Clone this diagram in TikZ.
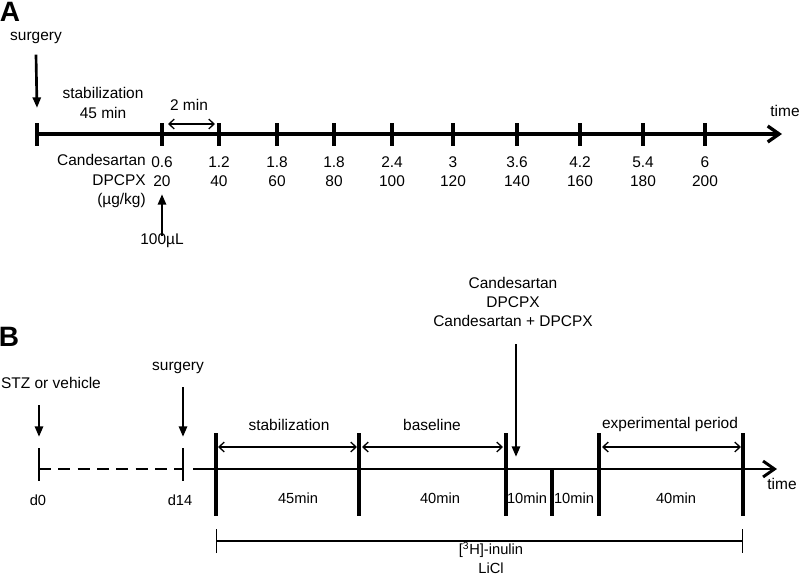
\documentclass[tikz,border=0pt]{standalone}
\usepackage{fontspec}
\setmainfont{Liberation Sans}
\usetikzlibrary{positioning,arrows.meta,calc}

\begin{document}
\begin{tikzpicture}[x=0.75pt,y=-0.75pt,font=\fontsize{11.6}{14.4}\selectfont,
  >={Triangle[length=2.8mm,width=2.1mm]},
  panel/.style={font=\fontsize{21}{24}\selectfont\bfseries,inner sep=0pt},
  lbl/.style={inner sep=0pt,align=center},
  axis/.style={line width=2.5pt,-{Straight Barb[length=3mm,width=4.2mm]}},
  tickmark/.style={line width=2.5pt},
  inj/.style={line width=2pt,->},
  span/.style={line width=1pt,{Straight Barb[length=1.4mm,width=2.6mm]}-{Straight Barb[length=1.4mm,width=2.6mm]}},
  infuse/.style={line width=1pt,{Bar[width=18pt]}-{Bar[width=18pt]}}]
  \useasboundingbox (0,0) rectangle (800,576);

  % A: dose protocol
  \node[panel] (A) at (10,12) {A};
  \node[lbl] (surgA) at (36,38) {surgery};
  \coordinate (a0) at (37,134);
  \coordinate (a1) at (162,134);
  \coordinate (aEnd) at (782,134);
  \coordinate (surgAtip) at (37,108);
  \draw[inj] ([yshift=-8pt]surgA.south) -- (surgAtip);
  \draw[axis] (a0) -- (aEnd);
  \node[lbl] (timeA) at (785,111) {time};
  \draw[tickmark] (37,123) -- (37,146);
  \draw[tickmark] (162,123) -- (162,146);
  \node[lbl] (stabA) at (103,103) {stabilization\\45 min};
  \node[lbl] (gapA) at (189,105) {2 min};
  \coordinate (gapL) at (168,124);
  \coordinate (gapR) at (215,124);
  \draw[span] (gapL) -- (gapR);
  \node[lbl,anchor=east,align=right] (drugA) at (146,181) {Candesartan\\DPCPX\\(µg/kg)};
  \node[lbl] (dose20) at (162,171.5) {0.6\\20};
  \foreach \x/\c/\d in {219/1.2/40, 277/1.8/60, 334/1.8/80, 392/2.4/100, 453/3/120,
                        517/3.6/140, 580/4.2/160, 643/5.4/180, 705/6/200}{
    \draw[tickmark] (\x,123) -- (\x,146);
    \node[lbl] (dose\d) at (\x,171.5) {\c\\\d};
  }
  \node[lbl] (volA) at (162,241) {100µL};
  \coordinate (volAtip) at (162,194);
  \draw[inj] ([yshift=-2pt]volA.north) -- (volAtip);

  % B: experimental timeline
  \node[panel] (B) at (9,337) {B};
  \node[lbl] (stz) at (51,383) {STZ or vehicle};
  \node[lbl] (surgB) at (178,368) {surgery};
  \coordinate (d0) at (39,469);
  \coordinate (d14) at (183,469);
  \coordinate (b0) at (193,469);
  \coordinate (bEnd) at (777,469);
  \draw[inj] (39,405) -- (39,437);
  \draw[inj] (183,387) -- (183,437);
  \draw[tickmark,line width=2.2pt] (39,448) -- (39,481);
  \draw[tickmark,line width=2.2pt] (183,448) -- (183,481);
  \draw[line width=2pt,dash pattern=on 9pt off 5.5pt] (d0) -- (d14);
  \node[lbl] (d0lbl) at (38,500) {\fontsize{11}{13}\selectfont d0};
  \node[lbl] (d14lbl) at (180,500) {\fontsize{11}{13}\selectfont d14};
  \draw[axis,line width=2.2pt] (b0) -- (bEnd);
  \node[lbl] (timeB) at (782,484) {time};
  \foreach \x in {216,359,506,599,743}
    \draw[tickmark] (\x,433) -- (\x,516);
  \draw[tickmark] (552,469) -- (552,516);
  \draw[span] (218,447) -- (357,447);
  \draw[span] (362,447) -- (503,447);
  \draw[span] (602,447) -- (741,447);
  \node[lbl] (stabB) at (289,425) {stabilization};
  \node[lbl] (base) at (432,425) {baseline};
  \node[lbl] (expt) at (670,424) {experimental period};
  \begin{scope}[font=\fontsize{11}{13}\selectfont]
    \node[lbl] (t45) at (298,498) {45min};
    \node[lbl] (t40a) at (440,498) {40min};
    \node[lbl] (t10a) at (527,498) {10min};
    \node[lbl] (t10b) at (574,498) {10min};
    \node[lbl] (t40b) at (676,498) {40min};
  \end{scope}
  \node[lbl] (drugB) at (513,302) {Candesartan\\DPCPX\\Candesartan + DPCPX};
  \coordinate (drugBtip) at (516,457);
  \draw[inj,line width=2.2pt] (516,344) -- (drugBtip);
  \draw[infuse] (216,541) -- (743,541);
  \node[lbl,font=\fontsize{11}{14}\selectfont] (tracer) at (491,558) {[\textsuperscript{3}H]-inulin\\LiCl};
\end{tikzpicture}
\end{document}
